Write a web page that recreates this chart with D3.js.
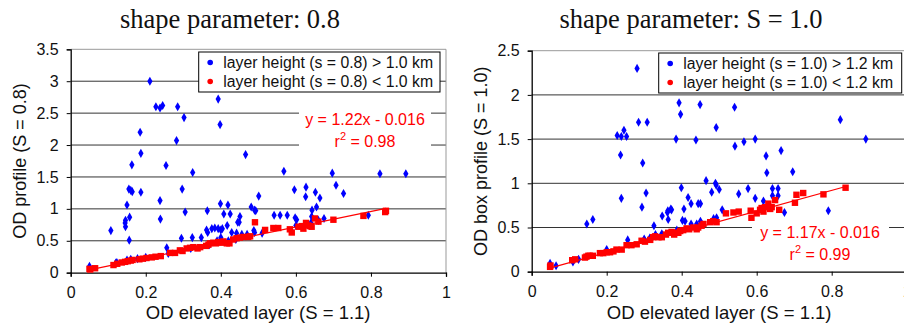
<!DOCTYPE html>
<html>
<head>
<meta charset="utf-8">
<script src="https://cdn.jsdelivr.net/npm/d3@7"></script>
<style>
  body { margin: 0; background: #fff; }
  svg { display: block; font-family: "Liberation Sans", Arial, sans-serif; }
</style>
</head>
<body>
<svg id="fig" width="904" height="327"></svg>
<script>
// left panel: shape parameter 0.8
const leftBlue = [
  [0.211,3.0],[0.227,2.60],[0.238,2.58],[0.245,2.62],[0.285,2.60],[0.302,2.43],[0.393,2.72],[0.398,2.32],
  [0.185,2.20],[0.187,1.87],[0.282,2.07],[0.466,1.85],[0.163,1.69],[0.254,1.68],[0.325,1.57],[0.568,1.59],
  [0.697,1.56],[0.824,1.55],[0.893,1.55],[0.155,1.31],[0.160,1.29],[0.164,1.27],[0.187,1.26],[0.297,1.31],
  [0.238,1.13],[0.596,1.30],[0.627,1.34],[0.652,1.26],[0.707,1.37],[0.727,1.24],[0.626,1.19],[0.664,1.17],
  [0.501,1.20],[0.150,1.06],[0.157,0.87],[0.146,0.82],[0.145,0.78],[0.146,0.72],[0.156,0.51],[0.107,0.66],
  [0.239,0.84],[0.305,0.95],[0.364,0.97],[0.399,1.08],[0.419,1.06],[0.408,0.92],[0.425,0.92],[0.481,1.03],
  [0.490,0.98],[0.493,0.97],[0.417,0.74],[0.445,0.79],[0.449,0.79],[0.451,0.88],[0.362,0.67],[0.365,0.63],
  [0.376,0.69],[0.384,0.70],[0.393,0.69],[0.400,0.67],[0.404,0.69],[0.295,0.54],[0.324,0.55],[0.348,0.55],
  [0.256,0.39],[0.429,0.63],[0.442,0.62],[0.456,0.60],[0.488,0.66],[0.542,0.90],[0.558,0.90],[0.577,0.90],
  [0.598,0.86],[0.602,0.83],[0.643,0.98],[0.655,1.03],[0.642,0.88],[0.675,0.85],[0.793,0.90],[0.050,0.10],
  [0.178,0.22],[0.200,0.24],[0.123,0.16],[0.120,0.15],[0.150,0.20],[0.160,0.21],[0.260,0.30],[0.320,0.38],
  [0.370,0.44],[0.390,0.50],[0.400,0.55],[0.420,0.50],[0.440,0.52],[0.470,0.60],[0.490,0.63],[0.510,0.62],
  [0.600,0.74],[0.640,0.78],[0.660,0.82]
];
const leftRed = [
  [0.050,0.06],[0.052,0.05],[0.065,0.07],[0.114,0.12],[0.124,0.14],[0.136,0.16],[0.145,0.17],[0.152,0.18],
  [0.160,0.19],[0.165,0.20],[0.183,0.21],[0.192,0.22],[0.202,0.23],[0.216,0.24],[0.226,0.25],[0.240,0.26],
  [0.265,0.31],[0.278,0.31],[0.291,0.35],[0.298,0.34],[0.309,0.38],[0.318,0.39],[0.327,0.40],[0.338,0.38],
  [0.345,0.40],[0.361,0.42],[0.367,0.44],[0.371,0.46],[0.380,0.47],[0.387,0.46],[0.393,0.48],[0.402,0.47],
  [0.407,0.49],[0.416,0.46],[0.423,0.46],[0.433,0.52],[0.442,0.54],[0.451,0.55],[0.460,0.56],[0.473,0.56],
  [0.478,0.57],[0.491,0.79],[0.518,0.67],[0.540,0.70],[0.553,0.70],[0.584,0.68],[0.589,0.63],[0.607,0.72],
  [0.616,0.73],[0.620,0.69],[0.627,0.78],[0.633,0.74],[0.638,0.73],[0.642,0.72],[0.651,0.85],[0.660,0.80],
  [0.700,0.83],[0.780,0.89],[0.838,0.95],[0.840,0.97]
];
// right panel: shape parameter S = 1.0
const rightBlue = [
  [0.281,2.30],[0.285,1.69],[0.308,1.69],[0.393,1.91],[0.397,1.78],[0.449,1.89],[0.541,1.86],[0.492,1.63],
  [0.823,1.72],[0.891,1.50],[0.228,1.54],[0.239,1.53],[0.253,1.53],[0.246,1.60],[0.237,1.32],[0.296,1.23],
  [0.385,1.50],[0.438,1.49],[0.542,1.42],[0.566,1.47],[0.596,1.50],[0.625,1.31],[0.627,1.12],[0.665,1.37],
  [0.696,1.13],[0.465,1.03],[0.490,1.00],[0.492,0.98],[0.500,0.93],[0.480,0.90],[0.399,0.95],[0.417,0.84],
  [0.425,0.77],[0.444,0.77],[0.450,0.77],[0.406,0.71],[0.371,0.71],[0.373,0.70],[0.363,0.69],[0.362,0.67],
  [0.348,0.63],[0.364,0.59],[0.326,0.52],[0.305,0.89],[0.294,0.73],[0.239,0.83],[0.147,0.54],[0.163,0.59],
  [0.552,0.88],[0.577,0.94],[0.596,0.83],[0.642,0.94],[0.657,0.94],[0.642,0.86],[0.657,0.86],[0.674,0.67],
  [0.791,0.69],[0.508,0.70],[0.402,0.58],[0.409,0.57],[0.425,0.54],[0.440,0.54],[0.450,0.57],[0.049,0.094],
  [0.065,0.068],[0.256,0.36],[0.300,0.37],[0.315,0.38],[0.347,0.43],[0.618,0.80],[0.485,0.60],[0.493,0.61],
  [0.110,0.11],[0.125,0.14],[0.200,0.25],[0.330,0.42],[0.387,0.47]
];
const rightRed = [
  [0.049,0.055],[0.050,0.07],[0.108,0.13],[0.116,0.14],[0.142,0.16],[0.146,0.17],[0.151,0.18],[0.155,0.18],
  [0.163,0.18],[0.182,0.21],[0.191,0.21],[0.200,0.22],[0.209,0.22],[0.218,0.23],[0.226,0.25],[0.240,0.25],
  [0.253,0.30],[0.266,0.30],[0.280,0.31],[0.293,0.35],[0.302,0.34],[0.316,0.36],[0.324,0.39],[0.329,0.40],
  [0.338,0.39],[0.347,0.39],[0.358,0.42],[0.364,0.44],[0.373,0.45],[0.380,0.42],[0.385,0.44],[0.391,0.44],
  [0.396,0.46],[0.404,0.47],[0.413,0.49],[0.420,0.48],[0.431,0.50],[0.440,0.48],[0.444,0.50],[0.453,0.52],
  [0.458,0.54],[0.476,0.56],[0.484,0.57],[0.493,0.56],[0.518,0.66],[0.538,0.67],[0.552,0.68],[0.584,0.69],
  [0.586,0.61],[0.600,0.66],[0.609,0.70],[0.613,0.72],[0.618,0.68],[0.622,0.73],[0.631,0.77],[0.636,0.71],
  [0.640,0.73],[0.649,0.81],[0.660,0.70],[0.702,0.78],[0.706,0.87],[0.724,0.89],[0.778,0.875],[0.837,0.95]
];
const xTicks = [0, 0.2, 0.4, 0.6, 0.8, 1];
const leftYTicks = [0, 0.5, 1, 1.5, 2, 2.5, 3, 3.5];
const rightYTicks = [0, 0.5, 1, 1.5, 2, 2.5];

const panels = [
  { title: "shape parameter: 0.8", ylab: "OD profile (S = 0.8)", blue: leftBlue, red: leftRed, yTicks: leftYTicks,
    ymax: 3.5, xr: [70.7, 446], yr: [272.7, 49.3], titleX: 230, ylabX: 20,
    leg: ["layer height (s = 0.8) > 1.0 km", "layer height (s = 0.8) < 1.0 km"], legBox: [198.7, 52, 241.3, 40],
    slope: 1.22, icpt: -0.016, eq: ["y = 1.22x - 0.016", "0.98"], eqBox: [299, 104, 132, 46], eqX: 365, eqY: 125 },
  { title: "shape parameter: S = 1.0", ylab: "OD box profile (S = 1.0)", blue: rightBlue, red: rightRed, yTicks: rightYTicks,
    ymax: 2.5, xr: [531.7, 906.7], yr: [271.7, 50.7], titleX: 691, ylabX: 481,
    leg: ["layer height (s = 1.0) > 1.2 km", "layer height (s = 1.0) < 1.2 km"], legBox: [658.7, 53, 243, 40],
    slope: 1.17, icpt: -0.016, eq: ["y = 1.17x - 0.016", "0.99"], eqBox: [752, 218, 137, 46], eqX: 820, eqY: 238 }
];

const svg = d3.select("#fig");

panels.forEach(p => {
  const x = d3.scaleLinear().domain([0, 1]).range(p.xr);
  const y = d3.scaleLinear().domain([0, p.ymax]).range(p.yr);
  const g = svg.append("g");

  // gridlines
  g.selectAll(".grid").data(p.yTicks.filter(t => t > 0 && t < p.ymax)).enter()
    .append("line")
    .attr("x1", x(0)).attr("x2", x(1))
    .attr("y1", d => y(d)).attr("y2", d => y(d))
    .attr("stroke", "#333").attr("stroke-width", 1);
  // plot border top/right
  g.append("line").attr("x1", x(0)).attr("x2", x(1)).attr("y1", y(p.ymax)).attr("y2", y(p.ymax))
    .attr("stroke", "#999");
  g.append("line").attr("x1", x(1)).attr("x2", x(1)).attr("y1", y(0)).attr("y2", y(p.ymax))
    .attr("stroke", "#999");

  // equation box hides gridlines
  g.append("rect").attr("x", p.eqBox[0]).attr("y", p.eqBox[1]).attr("width", p.eqBox[2]).attr("height", p.eqBox[3])
    .attr("fill", "#fff");

  // axes
  const xAxis = g.append("g").attr("transform", `translate(0,${y(0)})`)
    .call(d3.axisBottom(x).tickValues(xTicks).tickSize(4).tickPadding(10).tickFormat(d3.format("")));
  const yAxis = g.append("g").attr("transform", `translate(${x(0)},0)`)
    .call(d3.axisLeft(y).tickValues(p.yTicks).tickSize(4).tickPadding(8).tickFormat(d3.format("")));
  [xAxis, yAxis].forEach(a => {
    a.attr("font-family", null);
    a.select(".domain").attr("stroke", "#000").attr("stroke-width", 1.3);
    a.selectAll(".tick line").attr("stroke", "#000");
    a.selectAll("text").attr("font-size", 16).attr("fill", "#111");
  });

  // blue diamonds
  const diamond = d3.symbol().type(d3.symbolDiamond).size(24);
  g.append("g").selectAll("path").data(p.blue).enter().append("path")
    .attr("d", diamond)
    .attr("transform", d => `translate(${x(d[0])},${y(d[1])})`)
    .attr("fill", "#0000ff");

  // red squares
  g.append("g").selectAll("rect").data(p.red).enter().append("rect")
    .attr("x", d => x(d[0]) - 3.2).attr("y", d => y(d[1]) - 3.2)
    .attr("width", 6.4).attr("height", 6.4)
    .attr("fill", "#ff0000");

  // fit line
  g.append("line")
    .attr("x1", x(0.05)).attr("y1", y(p.slope * 0.05 + p.icpt))
    .attr("x2", x(0.84)).attr("y2", y(p.slope * 0.84 + p.icpt))
    .attr("stroke", "#ff0000").attr("stroke-width", 1.2);

  // equation text
  g.append("text").attr("x", p.eqX).attr("y", p.eqY).attr("text-anchor", "middle")
    .attr("font-size", 16).attr("fill", "#ff0000").text(p.eq[0]);
  const r2 = g.append("text").attr("x", p.eqX).attr("y", p.eqY + 22).attr("text-anchor", "middle")
    .attr("font-size", 16).attr("fill", "#ff0000");
  r2.append("tspan").text("r");
  r2.append("tspan").attr("font-size", 11).attr("dy", -7).text("2");
  r2.append("tspan").attr("dy", 7).text(" = " + p.eq[1]);

  // legend
  const lb = p.legBox;
  g.append("rect").attr("x", lb[0]).attr("y", lb[1]).attr("width", lb[2]).attr("height", lb[3])
    .attr("fill", "#fff").attr("stroke", "#000").attr("stroke-width", 1);
  [["#0000ff", p.leg[0]], ["#ff0000", p.leg[1]]].forEach((it, i) => {
    const cy = lb[1] + 10.5 + i * 19;
    g.append("circle").attr("cx", lb[0] + 11.5).attr("cy", cy).attr("r", 2.8).attr("fill", it[0]);
    g.append("text").attr("x", lb[0] + 24.5).attr("y", cy + 5.5).attr("font-size", 15.8).attr("fill", "#111").text(it[1]);
  });

  // titles
  svg.append("text").attr("x", p.titleX).attr("y", 28).attr("text-anchor", "middle")
    .style("font-family", "'Liberation Serif', 'Times New Roman', serif").attr("font-size", 26.5)
    .attr("fill", "#111").text(p.title);
  svg.append("text").attr("x", p.xr[0] + 187.5).attr("y", 319).attr("text-anchor", "middle")
    .attr("font-size", 18.5).attr("fill", "#111").text("OD elevated layer (S = 1.1)");
  svg.append("text").attr("transform", `translate(${p.ylabX},${(p.yr[0] + p.yr[1]) / 2}) rotate(-90)`)
    .attr("text-anchor", "middle").attr("dy", "0.35em")
    .attr("font-size", 18).attr("fill", "#111").text(p.ylab);
});
</script>
</body>
</html>
